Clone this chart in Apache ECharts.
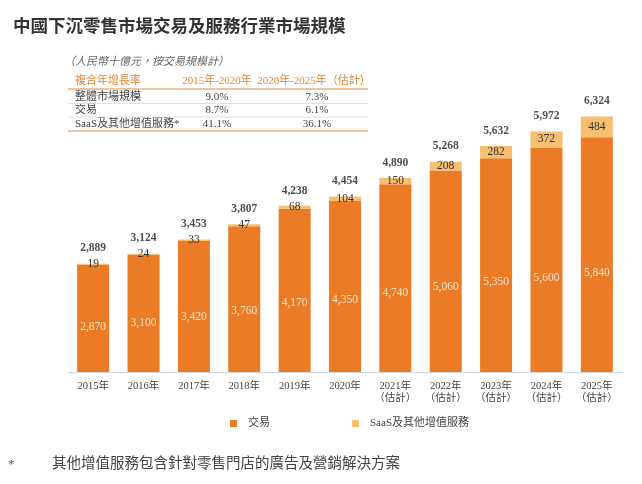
<!DOCTYPE html>
<html>
<head>
<meta charset="utf-8">
<script src="https://cdn.jsdelivr.net/npm/echarts@6/dist/echarts.min.js"></script>
<style>
  html, body { margin: 0; padding: 0; background: #fff; }
  #chart { width: 642px; height: 484px; }
</style>
</head>
<body>
<div id="chart"></div>
<script>
// chart data
const categories = ['2015年', '2016年', '2017年', '2018年', '2019年', '2020年',
  '2021年\n（估計）', '2022年\n（估計）', '2023年\n（估計）', '2024年\n（估計）', '2025年\n（估計）'];
const tradeValues = [2870, 3100, 3420, 3760, 4170, 4350, 4740, 5060, 5350, 5600, 5840];
const saasValues = [19, 24, 33, 47, 68, 104, 150, 208, 282, 372, 484];

// CAGR table
const tableHeader = ['複合年增長率', '2015年-2020年', '2020年-2025年（估計）'];
const tableRows = ['整體市場規模', '交易', 'SaaS及其他增值服務*'];
const cagr2015to2020 = ['9.0%', '8.7%', '41.1%'];
const cagr2020to2025 = ['7.3%', '6.1%', '36.1%'];

const totals = tradeValues.map((v, i) => v + saasValues[i]);

const SERIF = '"Liberation Serif", "Noto Sans CJK TC", serif';
const ORANGE = '#EB7B24';
const LIGHT = '#F7BF6F';
const HEAD = '#E3873A';

const chart = echarts.init(document.getElementById('chart'));

// table + notes drawn as graphic elements
const graphics = [];
function text(t, x, y, opts) {
    graphics.push({
        type: 'text', x: x, y: y, silent: true,
        style: Object.assign({
            text: t, fill: '#444', font: '11px ' + SERIF,
            textAlign: 'left', textVerticalAlign: 'middle'
        }, opts || {})
    });
}
function hline(y, color, w) {
    graphics.push({
        type: 'line', silent: true,
        shape: { x1: 68, y1: y, x2: 368, y2: y },
        style: { stroke: color, lineWidth: w }
    });
}

text('（人民幣十億元，按交易規模計）', 64, 62, { fill: '#666', font: 'italic 11px ' + SERIF });
text(tableHeader[0], 75, 81, { fill: HEAD });
text(tableHeader[1], 217, 81, { fill: HEAD, textAlign: 'center', font: '11px ' + SERIF });
text(tableHeader[2], 314, 81, { fill: HEAD, textAlign: 'center', font: '11px ' + SERIF });
hline(89, HEAD, 1.2);
const rowY = [97, 110.5, 124];
tableRows.forEach((r, i) => {
    text(r, 75, rowY[i]);
    text(cagr2015to2020[i], 217, rowY[i], { textAlign: 'center' });
    text(cagr2020to2025[i], 317, rowY[i], { textAlign: 'center' });
});
hline(103.5, '#d8d8d8', 0.8);
hline(117, '#d8d8d8', 0.8);
hline(131, HEAD, 1.2);

text('*', 8, 465, { fill: '#555', font: '13px ' + SERIF });
text('其他增值服務包含針對零售門店的廣告及營銷解決方案', 52, 464, { fill: '#444', font: '14.5px ' + SERIF });

const option = {
    animation: false,
    title: {
        text: '中國下沉零售市場交易及服務行業市場規模',
        left: 8, top: 12,
        textStyle: { fontFamily: 'Noto Sans CJK TC', fontSize: 17.5, fontWeight: 'bold', color: '#333' }
    },
    legend: [
        {
            data: ['交易'], left: 225, top: 413, icon: 'rect', itemWidth: 7, itemHeight: 7,
            textStyle: { fontFamily: SERIF, fontSize: 11, color: '#444', padding: [0, 0, 0, 6] }
        },
        {
            data: ['SaaS及其他增值服務'], left: 347, top: 413, icon: 'rect', itemWidth: 7, itemHeight: 7,
            textStyle: { fontFamily: SERIF, fontSize: 11, color: '#444', padding: [0, 0, 0, 6] }
        }
    ],
    grid: { left: 68, right: 20, top: 87.4, bottom: 112 },
    xAxis: {
        type: 'category',
        data: categories,
        axisLine: { lineStyle: { color: '#cfd6de', width: 1 } },
        axisTick: { show: false },
        axisLabel: { interval: 0, fontFamily: SERIF, fontSize: 10.5, color: '#444', margin: 8, lineHeight: 12 }
    },
    yAxis: {
        type: 'value', min: 364, max: 7000,
        show: false, splitLine: { show: false }
    },
    series: [
        {
            name: '交易', type: 'bar', stack: 'total', barWidth: 32,
            data: tradeValues,
            itemStyle: { color: ORANGE },
            label: {
                show: true, position: ['50%', '58%'], align: 'center', verticalAlign: 'middle',
                fontFamily: SERIF, fontSize: 11.5, color: '#FCE4CC',
                formatter: p => p.value.toLocaleString('en-US')
            }
        },
        {
            name: 'SaaS及其他增值服務', type: 'bar', stack: 'total', barWidth: 32,
            data: saasValues,
            itemStyle: { color: LIGHT },
            label: {
                show: true, position: 'inside',
                fontFamily: SERIF, fontSize: 11.5, color: '#333'
            }
        },
        {
            name: 'total', type: 'scatter', data: totals,
            symbol: 'circle', symbolSize: 1, itemStyle: { color: 'rgba(0,0,0,0)' },
            z: 5,
            label: {
                show: true, position: 'top', distance: 9,
                fontFamily: SERIF, fontSize: 11.5, fontWeight: 'bold', color: '#222',
                formatter: p => p.value.toLocaleString('en-US')
            }
        }
    ],
    graphic: graphics
};

chart.setOption(option);
</script>
</body>
</html>
